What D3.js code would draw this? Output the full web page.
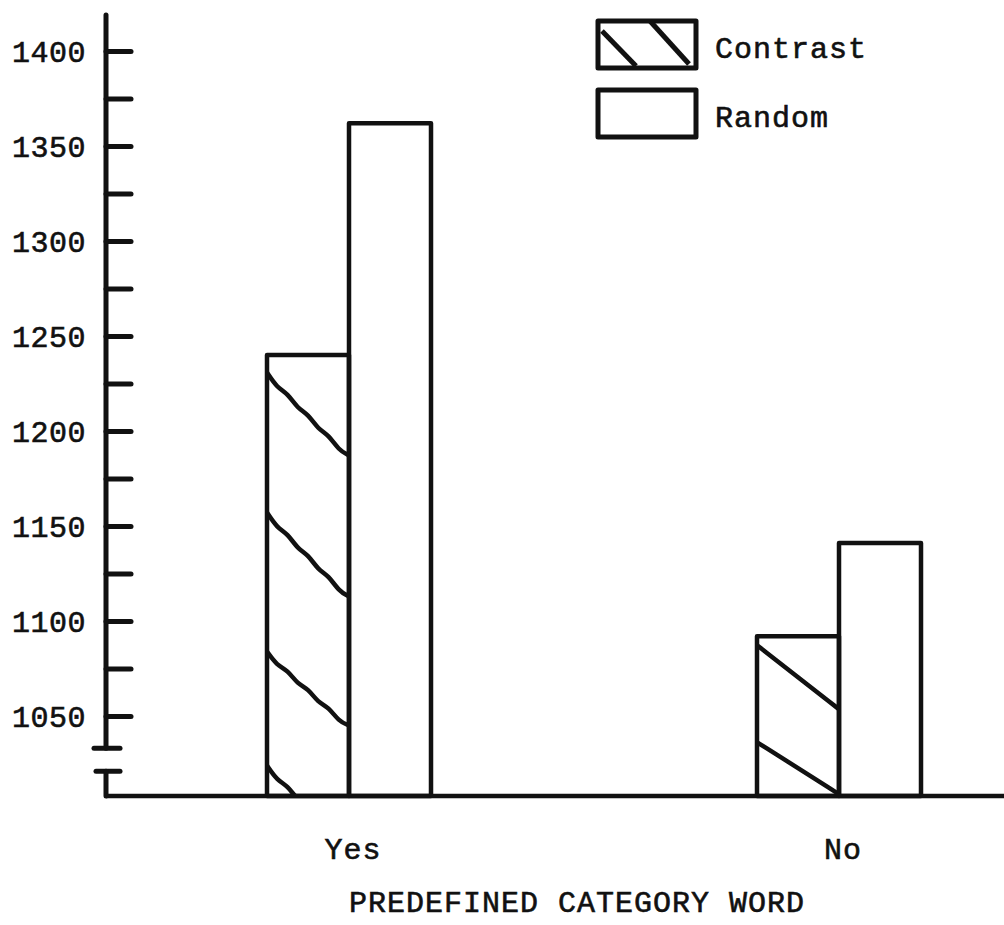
<!DOCTYPE html>
<html>
<head>
<meta charset="utf-8">
<script src="https://cdn.jsdelivr.net/npm/d3@7"></script>
<style>
    html, body { margin: 0; padding: 0; background: #fff; }
    #chart text { font-family: "Liberation Mono", "DejaVu Sans Mono", monospace; fill: #111; stroke: #111; stroke-width: 0.6; }
</style>
</head>
<body>
<div id="chart"></div>
<script>
// Reaction time by predefined category word (broken y axis)

const categories = ['Yes', 'No'];
const seriesNames = ['Contrast', 'Random'];
const contrastValues = [1240, 1092];
const randomValues = [1362, 1141];
const tickLabels = [1050, 1100, 1150, 1200, 1250, 1300, 1350, 1400];
const minorTicks = [1075, 1125, 1175, 1225, 1275, 1325, 1375];
const xTitle = 'PREDEFINED CATEGORY WORD';

const width = 1004;
const height = 925;
const ink = '#111';
const axisX = 106;
const baseY = 796;

const svg = d3.select('#chart')
    .append('svg')
    .attr('width', width)
    .attr('height', height);

// Scales
const y = d3.scaleLinear()
    .domain([1050, 1400])
    .range([716, 51]);

const x = d3.scalePoint()
    .domain(categories)
    .range([349, 839]);

const xSub = d3.scaleBand()
    .domain(seriesNames)
    .range([-82, 82])
    .padding(0);

const rows = categories.map((c, i) => ({
    cat: c,
    values: [
        { series: 'Contrast', value: contrastValues[i] },
        { series: 'Random', value: randomValues[i] }
    ]
}));

// Y axis with ticks pointing right
const yAxis = d3.axisLeft(y)
    .tickValues(tickLabels)
    .tickSizeInner(-25)
    .tickSizeOuter(0)
    .tickPadding(20)
    .tickFormat(d3.format('d'));

const yAxisG = svg.append('g')
    .attr('transform', `translate(${axisX},0)`)
    .call(yAxis);

yAxisG.select('.domain').remove();
yAxisG.selectAll('.tick line')
    .attr('stroke', ink)
    .attr('stroke-width', 5)
    .attr('stroke-linecap', 'round');
yAxisG.selectAll('.tick text')
    .attr('font-size', 30)
    .attr('letter-spacing', 0.5)
    .attr('dy', '0.36em');

const minorAxis = d3.axisLeft(y)
    .tickValues(minorTicks)
    .tickSizeInner(-25)
    .tickSizeOuter(0)
    .tickFormat('');

const minorG = svg.append('g')
    .attr('transform', `translate(${axisX},0)`)
    .call(minorAxis);
minorG.select('.domain').remove();
minorG.selectAll('.tick line')
    .attr('stroke', ink)
    .attr('stroke-width', 5)
    .attr('stroke-linecap', 'round');

// Axis spine with break
const breakTop = y(1033);
const breakBottom = breakTop + 23;
const spine = svg.append('g')
    .attr('stroke', ink)
    .attr('stroke-width', 5)
    .attr('stroke-linecap', 'round')
    .attr('fill', 'none');

spine.append('line')
    .attr('x1', axisX).attr('x2', axisX)
    .attr('y1', y(1419)).attr('y2', breakTop);
spine.append('line')
    .attr('x1', axisX - 12).attr('x2', axisX + 14)
    .attr('y1', breakTop).attr('y2', breakTop);
spine.append('line')
    .attr('x1', axisX - 10).attr('x2', axisX + 14)
    .attr('y1', breakBottom).attr('y2', breakBottom);
spine.append('line')
    .attr('x1', axisX).attr('x2', axisX)
    .attr('y1', breakBottom).attr('y2', baseY);

// Bars
const defs = svg.append('defs');
// hand-drawn hatch strokes: [offset below bar top, drop across bar width]
const hatchStyle = {
    Yes: { strokes: [[20, 83], [160, 84], [299, 74], [413, 80]], wave: 2.5 },
    No: { strokes: [[9, 64], [106, 52]], wave: 0 }
};

const groups = svg.selectAll('.group')
    .data(rows)
    .enter()
    .append('g')
    .attr('class', 'group')
    .attr('transform', d => `translate(${x(d.cat)},0)`);

groups.each(function (row) {
    const g = d3.select(this);
    row.values.forEach(v => {
        const x0 = xSub(v.series);
        const w = xSub.bandwidth();
        const top = y(v.value);

        if (v.series === 'Contrast') {
            const clipId = `clip-${row.cat}`;
            // clip rect lives in the group's own (translated) coordinates
            defs.append('clipPath')
                .attr('id', clipId)
                .append('rect')
                .attr('x', x0)
                .attr('y', top)
                .attr('width', w)
                .attr('height', baseY - top);

            const hs = hatchStyle[row.cat];
            const hatchG = g.append('g')
                .attr('clip-path', `url(#${clipId})`);
            const line = d3.line().curve(d3.curveBasis);
            hs.strokes.forEach(([off, drop]) => {
                const start = top + off;
                const pts = d3.range(0, 9).map(k => {
                    const px = x0 + (w * k) / 8;
                    const py = start + (drop * k) / 8 + (k % 2 ? hs.wave : -hs.wave);
                    return [px, py];
                });
                hatchG.append('path')
                    .attr('d', line(pts))
                    .attr('fill', 'none')
                    .attr('stroke', ink)
                    .attr('stroke-width', 4.5);
            });
        }

        g.append('rect')
            .attr('x', x0)
            .attr('y', top)
            .attr('width', w)
            .attr('height', baseY - top)
            .attr('fill', 'none')
            .attr('stroke', ink)
            .attr('stroke-width', 4.5)
            .attr('stroke-linejoin', 'round');
    });
});

// Baseline
svg.append('line')
    .attr('x1', axisX).attr('x2', width)
    .attr('y1', baseY).attr('y2', baseY)
    .attr('stroke', ink)
    .attr('stroke-width', 4.5);

// Category labels
svg.selectAll('.cat-label')
    .data(categories)
    .enter()
    .append('text')
    .attr('class', 'cat-label')
    .attr('x', d => x(d) + 4)
    .attr('y', 848)
    .attr('dy', '0.36em')
    .attr('text-anchor', 'middle')
    .attr('font-size', 30)
    .attr('letter-spacing', 1)
    .text(d => d);

svg.append('text')
    .attr('x', 577)
    .attr('y', 901)
    .attr('dy', '0.36em')
    .attr('text-anchor', 'middle')
    .attr('font-size', 30)
    .attr('letter-spacing', 1)
    .text(xTitle);

// Legend
const legend = svg.append('g')
    .attr('transform', 'translate(598,21)');

const legendItems = legend.selectAll('.legend-item')
    .data(seriesNames)
    .enter()
    .append('g')
    .attr('class', 'legend-item')
    .attr('transform', (d, i) => `translate(0,${i * 69})`);

legendItems.append('rect')
    .attr('width', 98)
    .attr('height', 47)
    .attr('fill', 'none')
    .attr('stroke', ink)
    .attr('stroke-width', 5)
    .attr('stroke-linejoin', 'round');

legendItems.filter(d => d === 'Contrast')
    .selectAll('.legend-hatch')
    .data([[[4, 10], [38, 45]], [[52, 0], [91, 43]]])
    .enter()
    .append('line')
    .attr('x1', d => d[0][0]).attr('y1', d => d[0][1])
    .attr('x2', d => d[1][0]).attr('y2', d => d[1][1])
    .attr('stroke', ink)
    .attr('stroke-width', 5);

legendItems.append('text')
    .attr('x', 117)
    .attr('y', 26)
    .attr('dy', '0.36em')
    .attr('font-size', 30)
    .attr('letter-spacing', 1)
    .text(d => d);
</script>
</body>
</html>
